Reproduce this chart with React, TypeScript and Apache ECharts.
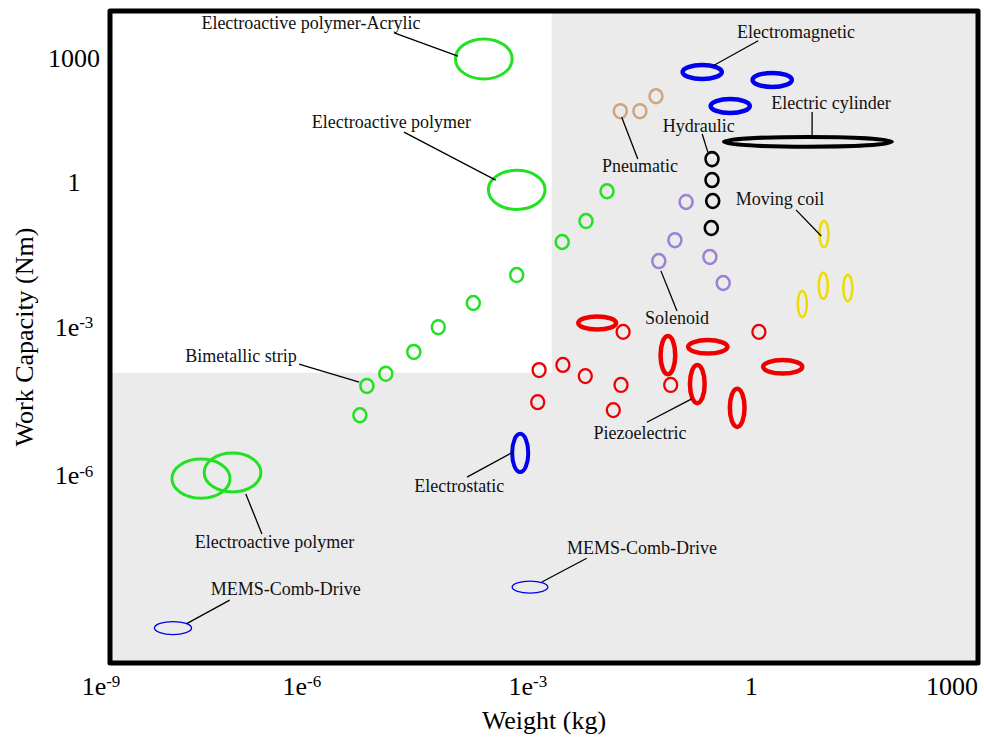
import React, { useEffect, useRef } from "react";
import * as echarts from "echarts";

// Axes are in decades (log10 units); label positions follow the drawn figure.
const X_MIN = -9;
const X_MAX = 3.4;
const Y_MIN = -10.1;
const Y_MAX = 3.9;
const xTickValues = [-9, -6.26, -3.03, 0.16, 3.03];
const xTickLabels = ["1e-9", "1e-6", "1e-3", "1", "1000"];
const yTickValues = [2.89, 0.21, -2.89, -6.08];
const yTickLabels = ["1000", "1", "1e-3", "1e-6"];

// Point markers: [log10 weight (kg), log10 work capacity (Nm)]
const bimetallicPoints = [
  [-5.43, -4.78], [-5.33, -4.15], [-5.06, -3.89], [-4.66, -3.42], [-4.31, -2.89],
  [-3.81, -2.37], [-3.19, -1.77], [-2.54, -1.06], [-2.2, -0.61], [-1.9, 0.03],
];
const pneumaticPoints = [[-1.71, 1.75], [-1.43, 1.75], [-1.2, 2.07]];
const hydraulicPoints = [[-0.4, 0.72], [-0.4, 0.27], [-0.39, -0.18], [-0.41, -0.76]];
const solenoidPoints = [[-0.77, -0.2], [-0.93, -1.02], [-1.16, -1.47], [-0.43, -1.38], [-0.24, -1.94]];
const piezoPoints = [
  [-1.67, -2.99], [-2.87, -3.81], [-2.53, -3.7], [-2.21, -3.94], [-1.7, -4.13],
  [-2.89, -4.5], [-1.81, -4.67], [-0.99, -4.13], [0.27, -2.99],
];

// Range ellipses: [centre log10 weight, centre log10 work, weight span, work span] (decades)
const eapEllipses = [
  [-3.66, 2.87, 0.81, 0.86], [-3.19, 0.06, 0.81, 0.84],
  [-7.7, -6.14, 0.83, 0.84], [-7.25, -6.01, 0.81, 0.84],
];
const electromagneticEllipses = [[-0.54, 2.59, 0.56, 0.3], [0.46, 2.42, 0.56, 0.3], [-0.14, 1.86, 0.56, 0.3]];
const electrostaticEllipses = [[-3.14, -5.59, 0.23, 0.82]];
const memsEllipses = [[-8.1, -9.35, 0.53, 0.28], [-3.0, -8.47, 0.51, 0.26]];
const cylinderEllipses = [[0.97, 1.09, 2.4, 0.21]];
const movingCoilEllipses = [[1.2, -0.89, 0.13, 0.56], [0.89, -2.39, 0.13, 0.56], [1.19, -2.0, 0.13, 0.56], [1.54, -2.05, 0.13, 0.56]];
const piezoEllipses = [
  [-2.04, -2.8, 0.54, 0.28], [-1.03, -3.49, 0.21, 0.82], [-0.61, -4.11, 0.21, 0.82],
  [-0.04, -4.62, 0.21, 0.82], [-0.46, -3.31, 0.56, 0.29], [0.61, -3.74, 0.56, 0.29],
];

// Shaded boundary: white area [xFrom, xTo, yFrom, yTo]
const whiteRegion = [[-9, -2.69, -3.87, 3.9]];

// Annotations: text, and [textX, textY, leaderX1, leaderY1, leaderX2, leaderY2]
const annotationTexts = [
  "Electroactive polymer-Acrylic", "Electroactive polymer", "Pneumatic", "Electromagnetic",
  "Electric cylinder", "Hydraulic", "Moving coil", "Solenoid", "Piezoelectric",
  "Bimetallic strip", "Electrostatic", "Electroactive polymer", "MEMS-Comb-Drive", "MEMS-Comb-Drive",
];
const annotationPos = [
  [-6.13, 3.64, -4.94, 3.43, -4.03, 2.93],
  [-4.98, 1.52, -4.8, 1.3, -3.49, 0.27],
  [-1.43, 0.57, -1.69, 1.62, -1.46, 0.72],
  [0.8, 3.45, 0.26, 3.26, -0.39, 2.72],
  [1.3, 1.92, 1.03, 1.73, 1.03, 1.22],
  [-0.59, 1.43, -0.54, 1.26, -0.46, 0.87],
  [0.57, -0.14, 0.8, -0.37, 1.16, -0.93],
  [-0.9, -2.69, -1.13, -1.68, -0.9, -2.54],
  [-1.43, -5.16, -1.33, -4.93, -0.69, -4.43],
  [-7.13, -3.51, -6.3, -3.68, -5.44, -4.07],
  [-4.01, -6.3, -3.9, -6.11, -3.24, -5.57],
  [-6.65, -7.5, -7.06, -6.47, -6.83, -7.33],
  [-6.49, -8.51, -7.29, -8.75, -7.91, -9.26],
  [-1.4, -7.63, -2.19, -7.85, -2.83, -8.36],
];

const FONT = "'Liberation Serif', 'Times New Roman', serif";

function tickLabel(label: string, first: boolean) {
  if (label.indexOf("e") < 0) return `{m|${label}}`;
  const [base, exp] = label.split("e");
  return `{m|${base}e}{${first ? "sf" : "s"}|${exp}}`;
}

const rich = {
  m: { fontSize: 26, fontFamily: FONT, color: "#000" },
  s: { fontSize: 17, fontFamily: FONT, color: "#000", verticalAlign: "top" },
  sf: { fontSize: 17, fontFamily: FONT, color: "#000", verticalAlign: "top", padding: [0, 18, 0, 0] },
};

function markerSeries(data: number[][], color: string, lw: number) {
  return {
    type: "custom",
    data,
    z: 5,
    renderItem: (params: any, api: any) => {
      const c = api.coord([api.value(0), api.value(1)]);
      return {
        type: "ellipse",
        shape: { cx: c[0], cy: c[1], rx: 6.5, ry: 7 },
        style: { fill: "none", stroke: color, lineWidth: lw },
      };
    },
  };
}

function ellipseSeries(data: number[][], color: string, lw: number) {
  return {
    type: "custom",
    data,
    z: 5,
    renderItem: (params: any, api: any) => {
      const c = api.coord([api.value(0), api.value(1)]);
      const s = api.size([api.value(2), api.value(3)]);
      return {
        type: "ellipse",
        shape: { cx: c[0], cy: c[1], rx: s[0] / 2, ry: s[1] / 2 },
        style: { fill: "none", stroke: color, lineWidth: lw },
      };
    },
  };
}

export default function App() {
  const ref = useRef<HTMLDivElement>(null);
  useEffect(() => {
    if (!ref.current) return;
    const chart = echarts.init(ref.current, undefined, { renderer: "svg" });
    const green = "#22e022";
    chart.setOption({
      animation: false,
      backgroundColor: "#fff",
      grid: { left: 110, right: 6, top: 11, bottom: 77, show: true, backgroundColor: "#ebebeb", borderWidth: 0 },
      xAxis: {
        type: "value",
        min: X_MIN,
        max: X_MAX,
        name: "Weight (kg)",
        nameLocation: "middle",
        nameGap: 44,
        nameTextStyle: { fontSize: 26, fontFamily: FONT, color: "#000" },
        axisLine: { show: false },
        axisTick: { show: false },
        splitLine: { show: false },
        axisLabel: {
          customValues: xTickValues,
          margin: 10,
          formatter: (v: number) => {
            const i = xTickValues.indexOf(v);
            return i < 0 ? "" : tickLabel(xTickLabels[i], i === 0);
          },
          rich,
        },
      },
      yAxis: {
        type: "value",
        min: Y_MIN,
        max: Y_MAX,
        name: "Work Capacity (Nm)",
        nameLocation: "middle",
        nameGap: 72,
        nameTextStyle: { fontSize: 26, fontFamily: FONT, color: "#000" },
        axisLine: { show: false },
        axisTick: { show: false },
        splitLine: { show: false },
        axisLabel: {
          customValues: yTickValues,
          margin: 36,
          align: "center",
          formatter: (v: number) => {
            const i = yTickValues.indexOf(v);
            return i < 0 ? "" : tickLabel(yTickLabels[i], false);
          },
          rich,
        },
      },
      series: [
        {
          type: "custom",
          data: whiteRegion,
          z: 1,
          renderItem: (params: any, api: any) => {
            const p0 = api.coord([api.value(0), api.value(3)]);
            const p1 = api.coord([api.value(1), api.value(2)]);
            return {
              type: "rect",
              shape: { x: p0[0], y: p0[1], width: p1[0] - p0[0], height: p1[1] - p0[1] },
              style: { fill: "#fff" },
            };
          },
        },
        markerSeries(bimetallicPoints, green, 2.5),
        markerSeries(pneumaticPoints, "#d2a479", 2.5),
        markerSeries(hydraulicPoints, "#000", 2.6),
        markerSeries(solenoidPoints, "#9c82d6", 2.5),
        markerSeries(piezoPoints, "#ee0000", 2.3),
        ellipseSeries(eapEllipses, green, 3),
        ellipseSeries(electromagneticEllipses, "#0000ee", 4.5),
        ellipseSeries(electrostaticEllipses, "#0000ee", 4),
        ellipseSeries(memsEllipses, "#0000ee", 1.3),
        ellipseSeries(cylinderEllipses, "#000", 4),
        ellipseSeries(movingCoilEllipses, "#eedc00", 2.5),
        ellipseSeries(piezoEllipses, "#ee0000", 4.5),
        {
          type: "custom",
          data: annotationPos,
          z: 6,
          renderItem: (params: any, api: any) => {
            const t = api.coord([api.value(0), api.value(1)]);
            const a = api.coord([api.value(2), api.value(3)]);
            const b = api.coord([api.value(4), api.value(5)]);
            return {
              type: "group",
              children: [
                {
                  type: "line",
                  shape: { x1: a[0], y1: a[1], x2: b[0], y2: b[1] },
                  style: { stroke: "#000", lineWidth: 1.3 },
                },
                {
                  type: "text",
                  x: t[0],
                  y: t[1],
                  style: {
                    text: annotationTexts[params.dataIndex],
                    fontSize: 18,
                    fontFamily: FONT,
                    fill: "#111",
                    align: "center",
                    verticalAlign: "middle",
                  },
                },
              ],
            };
          },
        },
        {
          type: "custom",
          data: [[X_MIN, Y_MIN]],
          z: 10,
          silent: true,
          renderItem: (params: any) => {
            const cs = params.coordSys;
            return {
              type: "rect",
              shape: { x: cs.x, y: cs.y, width: cs.width, height: cs.height },
              style: { fill: "none", stroke: "#000", lineWidth: 5, lineJoin: "round" },
            };
          },
        },
      ],
    });
    return () => chart.dispose();
  }, []);
  return <div ref={ref} style={{ position: "fixed", left: 0, top: 0, width: 984, height: 740 }} />;
}
